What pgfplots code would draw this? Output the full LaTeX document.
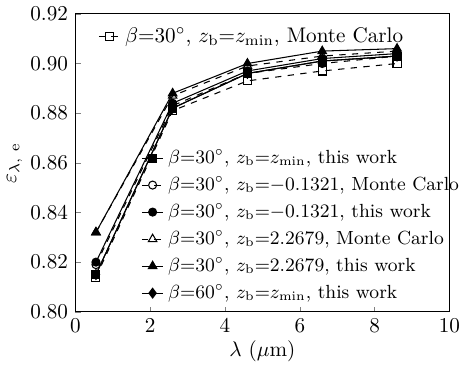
\documentclass[border=0pt]{standalone}
\usepackage{pgfplots}
\pgfplotsset{compat=1.18}
\begin{document}
\begin{tikzpicture}
\pgfplotsset{
  every axis/.append style={
    scale only axis, width=177pt, height=141pt,
    xmin=0, xmax=10, ymin=0.80, ymax=0.92,
  },
  myleg/.style={
    legend image code/.code={\draw[mark repeat=2,mark phase=2] plot coordinates {(0cm,0cm) (0.18cm,0cm) (0.36cm,0cm)};},
  }
}
\begin{axis}[
  myleg,
  xtick={0,2,4,6,8,10},
  ytick={0.80,0.82,0.84,0.86,0.88,0.90,0.92},
  yticklabel style={/pgf/number format/fixed,/pgf/number format/fixed zerofill,/pgf/number format/precision=2},
  tick pos=left, tick align=inside, major tick length=2.5pt,
  xlabel={$\lambda$ ($\mu$m)},
  ylabel={$\varepsilon_{\lambda,\ \mathrm{e}}$},
  xlabel style={yshift=3pt},
  ylabel style={yshift=-3pt},
  legend style={overlay, draw=none, fill=none, font=\small, at={(0.175,0.018)}, anchor=south west, row sep=0.6pt, inner sep=0pt, nodes={anchor=west}},
  every axis plot/.append style={black, line width=0.5pt, mark size=1.9pt},
]
\addplot[dashed, mark=square, mark options={solid, fill=white}, forget plot] coordinates {(0.55,0.814) (2.6,0.881) (4.6,0.893) (6.6,0.897) (8.6,0.900)};
\addplot[mark=square*, mark options={solid}] coordinates {(0.55,0.815) (2.6,0.882) (4.6,0.896) (6.6,0.901) (8.6,0.903)};
\addlegendentry{$\beta$=30$^\circ$, $z_\mathrm{b}$=$z_\mathrm{min}$, this work}
\addplot[dashed, mark=o, mark options={solid, fill=white}] coordinates {(0.55,0.819) (2.6,0.883) (4.6,0.896) (6.6,0.900) (8.6,0.903)};
\addlegendentry{$\beta$=30$^\circ$, $z_\mathrm{b}$=$-$0.1321, Monte Carlo}
\addplot[mark=*, mark options={solid}] coordinates {(0.55,0.820) (2.6,0.884) (4.6,0.897) (6.6,0.902) (8.6,0.904)};
\addlegendentry{$\beta$=30$^\circ$, $z_\mathrm{b}$=$-$0.1321, this work}
\addplot[dashed, mark=triangle, mark options={solid, fill=white}, mark size=2.3pt] coordinates {(0.55,0.832) (2.6,0.887) (4.6,0.899) (6.6,0.903) (8.6,0.905)};
\addlegendentry{$\beta$=30$^\circ$, $z_\mathrm{b}$=2.2679, Monte Carlo}
\addplot[mark=triangle*, mark options={solid}, mark size=2.3pt] coordinates {(0.55,0.832) (2.6,0.888) (4.6,0.900) (6.6,0.905) (8.6,0.906)};
\addlegendentry{$\beta$=30$^\circ$, $z_\mathrm{b}$=2.2679, this work}
\addplot[mark=diamond*, mark options={solid}, mark size=2.3pt] coordinates {(0.55,0.815) (2.6,0.882) (4.6,0.896) (6.6,0.901) (8.6,0.903)};
\addlegendentry{$\beta$=60$^\circ$, $z_\mathrm{b}$=$z_\mathrm{min}$, this work}
\end{axis}
\begin{axis}[
  myleg, hide axis,
  legend style={overlay, draw=none, fill=none, at={(0.06,0.97)}, anchor=north west, inner sep=0pt, nodes={anchor=west}},
]
\addlegendimage{black, dashed, line width=0.5pt, mark=square, mark size=1.9pt, mark options={solid, fill=white}}
\addlegendentry{$\beta$=30$^\circ$, $z_\mathrm{b}$=$z_\mathrm{min}$, Monte Carlo}
\end{axis}
\end{tikzpicture}
\end{document}
